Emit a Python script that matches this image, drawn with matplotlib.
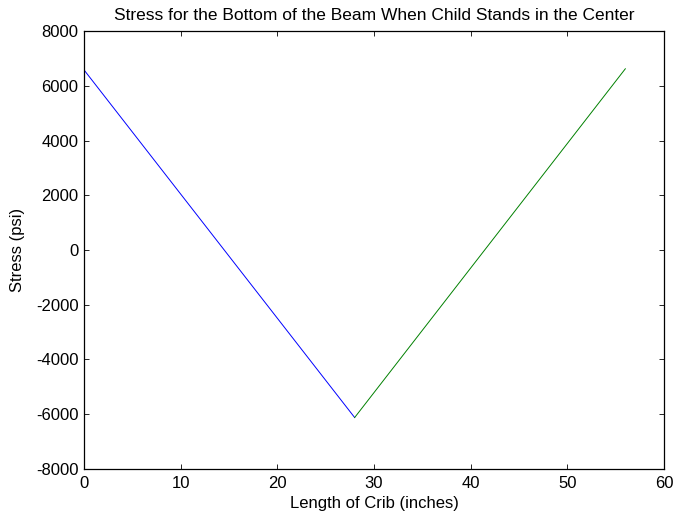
import matplotlib
matplotlib.use('Agg')
import matplotlib.pyplot as plt

# Datos
x_left = [0, 28]
stress_left = [6580, -6120]
x_right = [28, 56]
stress_right = [-6120, 6620]

plt.rcParams.update({
    'font.family': 'Liberation Sans',
    'font.size': 12,
    'axes.unicode_minus': False,
    'xtick.direction': 'in',
    'ytick.direction': 'in',
    'xtick.top': True,
    'ytick.right': True,
})

fig = plt.figure(figsize=(6.73, 5.16), dpi=100)
ax = fig.add_axes([0.1248, 0.0911, 0.8618, 0.8488])

ax.plot(x_left, stress_left, color='blue', linewidth=0.7)
ax.plot(x_right, stress_right, color='green', linewidth=0.7)

ax.set_xlim(0, 60)
ax.set_ylim(-8000, 8000)
ax.set_xticks(range(0, 61, 10))
ax.set_yticks(range(-8000, 8001, 2000))
ax.tick_params(length=3.5, width=0.6, labelsize=12)
ax.tick_params(axis='x', pad=5)
ax.tick_params(axis='y', pad=4)
for s in ax.spines.values():
    s.set_linewidth(0.9)

ax.set_xlabel("Length of Crib (inches)", fontsize=12, labelpad=4)
ax.set_ylabel("Stress (psi)", fontsize=12, labelpad=8)
ax.set_title("Stress for the Bottom of the Beam When Child Stands in the Center", fontsize=12.5, pad=8)

fig.savefig("out.png", dpi=100, facecolor='white')
